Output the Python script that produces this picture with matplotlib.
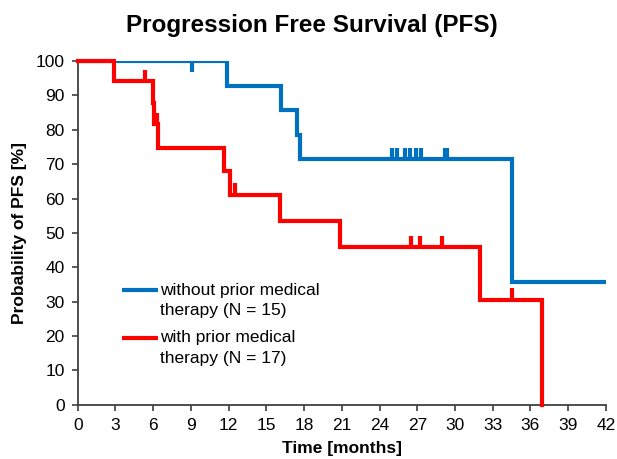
import numpy as np
import matplotlib
matplotlib.use("Agg")
import matplotlib.pyplot as plt

plt.rcParams['font.family'] = ['Liberation Sans', 'DejaVu Sans']

# Kaplan-Meier steps (months, % PFS)
blue_t = [0, 11.9, 16.2, 17.4, 17.7, 34.5, 42]
blue_s = [100, 92.86, 85.71, 78.57, 71.43, 35.71, 35.71]
blue_cens_t = [9.1, 25.0, 25.4, 26.0, 26.4, 26.9, 27.3, 29.2, 29.4]
blue_cens_s = [100, 71.43, 71.43, 71.43, 71.43, 71.43, 71.43, 71.43, 71.43]

red_t = [0, 2.85, 5.95, 6.1, 6.4, 11.65, 12.1, 16.1, 20.85, 32.0, 36.95]
red_s = [100, 94.12, 87.84, 81.57, 74.77, 67.97, 61.18, 53.53, 45.88, 30.59, 0]
red_cens_t = [5.35, 6.3, 12.5, 26.5, 27.2, 29.0, 34.5]
red_cens_s = [94.12, 81.57, 61.18, 45.88, 45.88, 45.88, 30.59]

labels = [['without prior medical', 'therapy (N = 15)'],
          ['with prior medical', 'therapy (N = 17)']]

blue = '#0070C0'
red = '#FF0000'
axis_col = '#404040'
tick_len = 3.3

fig, ax = plt.subplots(figsize=(6.17, 4.59), dpi=100)
fig.subplots_adjust(left=0.126, right=0.982, top=0.867, bottom=0.118)

ax.step(blue_t, blue_s, where='post', color=blue, lw=3, solid_joinstyle='miter', zorder=3)
ax.step(red_t, red_s, where='post', color=red, lw=3, solid_joinstyle='miter',
        zorder=4, clip_on=False)

# censor marks: upward, downward when at 100 %
for t, s in zip(blue_cens_t, blue_cens_s):
    d = -tick_len if s >= 100 else tick_len
    ax.plot([t, t], [s, s + d], color=blue, lw=3, solid_capstyle='butt', zorder=3)
for t, s in zip(red_cens_t, red_cens_s):
    d = -tick_len if s >= 100 else tick_len
    ax.plot([t, t], [s, s + d], color=red, lw=3, solid_capstyle='butt', zorder=4)

ax.set_xlim(0, 42)
ax.set_ylim(0, 100)
ax.set_xticks(np.arange(0, 43, 3))
ax.set_yticks(np.arange(0, 101, 10))
for sp in ['top', 'right']:
    ax.spines[sp].set_visible(False)
for sp in ['left', 'bottom']:
    ax.spines[sp].set_color(axis_col)
    ax.spines[sp].set_linewidth(1.3)
ax.tick_params(direction='out', length=4.5, width=1.2, color=axis_col,
               labelsize=12.5, pad=5)

# title is centred on the whole figure, not on the axes
ax.set_title('Progression Free Survival (PFS)', fontsize=17.5, fontweight='bold',
             pad=21, x=0.443)
ax.set_xlabel('Time [months]', fontsize=12.5, fontweight='bold', labelpad=6)
ax.set_ylabel('Probability of PFS [%]', fontsize=12.5, fontweight='bold', labelpad=6)

# legend: line next to the first line of each two-line label
for (l1, l2), col, y in zip(labels, [blue, red], [0.334, 0.195]):
    ax.plot([0.083, 0.152], [y, y], color=col, lw=3, transform=ax.transAxes,
            solid_capstyle='butt', clip_on=False)
    ax.text(0.155, y, l1, transform=ax.transAxes, fontsize=12.5, va='center')
    ax.text(0.155, y - 0.061, l2, transform=ax.transAxes, fontsize=12.5, va='center')

fig.savefig('out.png', dpi=100)
